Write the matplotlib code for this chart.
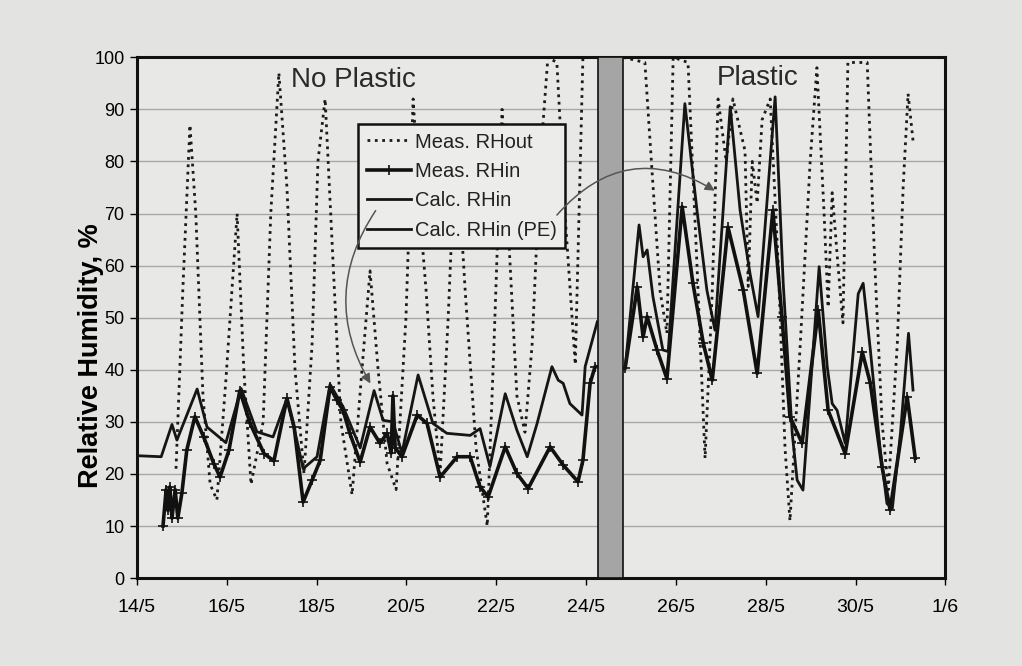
import matplotlib
matplotlib.use("Agg")
import matplotlib.pyplot as plt
from matplotlib import font_manager

# ---------------- data (x = days since 14/5) ----------------
rhout_day = [0.87, 1.02, 1.18, 1.31, 1.47, 1.63, 1.78, 1.98, 2.23, 2.38, 2.54, 2.81, 2.98, 3.16,
             3.34, 3.52, 3.72, 3.90, 4.03, 4.19, 4.37, 4.54, 4.79, 5.01, 5.19, 5.37, 5.57, 5.77,
             5.99, 6.15, 6.30, 6.44, 6.59, 6.75, 6.93, 7.10, 7.31, 7.55, 7.80, 7.95, 8.13, 8.31,
             8.46, 8.64, 8.80, 8.98, 9.15, 9.35, 9.53, 9.76, 9.93, 10.22,
             10.82, 11.31, 11.47, 11.65, 11.80, 11.94, 12.27, 12.47, 12.65, 12.81, 12.94, 13.12,
             13.27, 13.54, 13.61, 13.70, 13.81, 13.92, 14.10, 14.28, 14.43, 14.54, 14.77, 14.99,
             15.14, 15.30, 15.39, 15.48, 15.61, 15.72, 15.83, 16.26, 16.43, 16.59, 16.73, 16.93,
             17.06, 17.17, 17.28]
rhout_val = [21, 55, 87, 70, 35, 18, 15, 38, 70, 40, 18, 30, 70, 97,
             75, 40, 20, 45, 80, 92, 60, 30, 16, 40, 59, 40, 22, 17,
             50, 92, 70, 55, 35, 20, 50, 85, 55, 25, 10, 45, 90, 60,
             35, 28, 45, 80, 100, 99, 70, 41, 100, 100,
             100, 99, 78, 55, 47, 100, 99, 60, 23, 55, 92, 80,
             92, 82, 56, 80, 72, 88, 92, 60, 25, 11, 45, 80,
             98, 70, 52, 74, 60, 49, 99, 99, 60, 30, 17, 45,
             75, 93, 84]

rhin_day = [0.58, 0.65, 0.69, 0.73, 0.78, 0.85, 0.91, 1.00, 1.11, 1.29, 1.49, 1.71, 1.85, 2.05,
            2.29, 2.52, 2.83, 3.05, 3.34, 3.50, 3.70, 3.90, 4.08, 4.30, 4.45, 4.59, 4.74, 4.97,
            5.19, 5.41, 5.57, 5.66, 5.70, 5.75, 5.90, 6.24, 6.46, 6.75, 7.13, 7.42, 7.64, 7.82,
            8.20, 8.46, 8.71, 9.20, 9.49, 9.82, 9.93, 10.09, 10.20,
            10.87, 11.14, 11.27, 11.36, 11.58, 11.80, 12.14, 12.38, 12.61, 12.81, 13.16, 13.50,
            13.81, 14.16, 14.36, 14.54, 14.81, 15.17, 15.39, 15.77, 16.15, 16.33, 16.59, 16.77,
            17.15, 17.33]
rhin_val = [10, 17, 13, 17.5, 11.5, 17, 11.5, 16.3, 24.6, 31, 27, 22, 19.4, 24.6,
            36, 29.7, 23.9, 22.5, 34.5, 29, 14.6, 18.8, 22.6, 36.7, 34.2, 32.2, 27.8, 22.3,
            29, 25.9, 27.8, 24, 35, 25, 23.3, 31.3, 29.7, 19.4, 23.3, 23.3, 17.5, 15.6,
            25.2, 20.1, 17.2, 25.2, 21.7, 18.5, 22.6, 37.4, 40.6,
            40.3, 55.9, 46.3, 50.2, 43.8, 38.3, 71.3, 56.6, 45.1, 38, 67.4, 55.3,
            39.3, 70.6, 50.2, 31, 25.9, 51.4, 32.2, 23.9, 43.4, 37.4, 21.4, 13.1,
            34.8, 23]

calc_day = [0.00, 0.54, 0.78, 0.89, 1.34, 1.56, 1.98, 2.32, 2.67, 3.03, 3.34, 3.56, 3.70, 4.01,
            4.30, 4.59, 4.97, 5.28, 5.48, 5.70, 5.90, 6.26, 6.59, 6.90, 7.42, 7.64, 7.86, 8.20,
            8.46, 8.69, 8.91, 9.24, 9.38, 9.49, 9.64, 9.91, 9.98, 10.25]
calc_val = [23.5, 23.3, 29.5, 26.5, 36.3, 29, 26, 36.4, 28.1, 27.1, 34.5, 26.5, 21, 23.3,
            37.2, 32.9, 25, 36, 30.3, 30, 24, 39, 29.7, 27.8, 27.4, 28.7, 21.4, 35.4,
            28.4, 23.3, 29.7, 40.6, 38, 37.4, 33.5, 31.3, 40.6, 49.2]

pe_day = [10.87, 11.18, 11.27, 11.36, 11.49, 11.71, 11.83, 12.20, 12.47, 12.69, 12.87, 13.21,
          13.43, 13.65, 13.83, 14.21, 14.39, 14.59, 14.70, 14.83, 15.03, 15.19, 15.37, 15.48,
          15.59, 15.77, 15.92, 16.06, 16.17, 16.33, 16.55, 16.70, 16.82, 17.00, 17.18, 17.28]
pe_val = [40.3, 67.8, 61.7, 63, 54, 43.8, 43.5, 91.1, 70.6, 55.3, 47.6, 90.5,
          70.6, 58.5, 50.2, 92.4, 56.6, 27.8, 18.8, 16.9, 40.6, 59.8, 40.6, 33.5,
          32.2, 25.9, 40.6, 54.6, 56.6, 43.8, 24.6, 14.3, 13.4, 27.8, 47, 36.1]

tick_pos = [0, 2, 4, 6, 8, 10, 12, 14, 16, 18]
tick_labels = ["14/5", "16/5", "18/5", "20/5", "22/5", "24/5", "26/5", "28/5", "30/5", "1/6"]
band = (10.27, 10.82)

# ---------------- figure ----------------
plt.rcParams['font.family'] = ['Liberation Sans', 'DejaVu Sans']
names = {f.name for f in font_manager.fontManager.ttflist}
narrow = 'Liberation Sans Narrow' if 'Liberation Sans Narrow' in names else 'Liberation Sans'

fig = plt.figure(figsize=(10.22, 6.66), dpi=100, facecolor='#e3e3e1')
ax = fig.add_axes([0.134, 0.132, 0.791, 0.782])
ax.set_facecolor('#e8e8e6')

ax.set_xlim(0, 18)
ax.set_ylim(0, 100)
ax.set_yticks(range(0, 101, 10))
ax.set_xticks(tick_pos)
ax.set_xticklabels(tick_labels)
ax.tick_params(axis='x', labelsize=14, length=5, width=1, pad=10)
ax.tick_params(axis='y', labelsize=14.5 if narrow != 'Liberation Sans' else 13, length=5, width=1, pad=4)
for lab in ax.get_yticklabels():
    lab.set_family([narrow, 'DejaVu Sans'])
ax.yaxis.grid(True, color='#a8a8a8', lw=1.0, zorder=0)
ax.set_axisbelow(True)
for s in ax.spines.values():
    s.set_linewidth(2.2)
    s.set_color('#111111')

ax.set_ylabel("Relative Humidity, %", fontsize=19.5, fontweight='bold')
ax.yaxis.set_label_coords(-0.041, 0.428)

l1, = ax.plot(rhout_day, rhout_val, ls=':', lw=2.0, color='#1a1a1a', label='Meas. RHout', zorder=2)
l2, = ax.plot(rhin_day, rhin_val, ls='-', lw=2.6, color='#111111', marker='+', ms=7, mew=1.2,
              label='Meas. RHin', zorder=3)
l3, = ax.plot(calc_day, calc_val, ls='-', lw=2.0, color='#151515', label='Calc. RHin', zorder=3)
l4, = ax.plot(pe_day, pe_val, ls='-', lw=2.0, color='#151515', label='Calc. RHin (PE)', zorder=3)

ax.axvspan(band[0], band[1], facecolor='#a5a5a5', edgecolor='#111111', lw=1.2, zorder=6)

ax.text(4.83, 95.6, "No Plastic", fontsize=20, ha='center', va='center', color='#2a2a2a', zorder=7)
ax.text(13.83, 96.0, "Plastic", fontsize=20, ha='center', va='center', color='#2a2a2a', zorder=7)

leg = ax.legend(handles=[l1, l2, l3, l4], loc='upper left', bbox_to_anchor=(0.274, 0.871),
                fontsize=14.5, frameon=True, fancybox=False, framealpha=1, facecolor='#ececea',
                edgecolor='#111111', handlelength=2.2, handletextpad=0.2, labelspacing=0.52,
                borderpad=0.4, borderaxespad=0)
leg.get_frame().set_linewidth(1.8)
leg.set_zorder(8)
for t in leg.get_texts():
    t.set_color('#222222')

ax.annotate('', xy=(5.23, 36.9), xytext=(5.35, 71.0),
            arrowprops=dict(arrowstyle='-|>', connectionstyle='arc3,rad=0.32', color='#555555',
                            lw=1.1, mutation_scale=14), zorder=9)
ax.annotate('', xy=(12.92, 74.1), xytext=(9.31, 69.3),
            arrowprops=dict(arrowstyle='-|>', connectionstyle='arc3,rad=-0.43', color='#555555',
                            lw=1.1, mutation_scale=14), zorder=9)

fig.savefig("out.png", dpi=100, facecolor=fig.get_facecolor())
